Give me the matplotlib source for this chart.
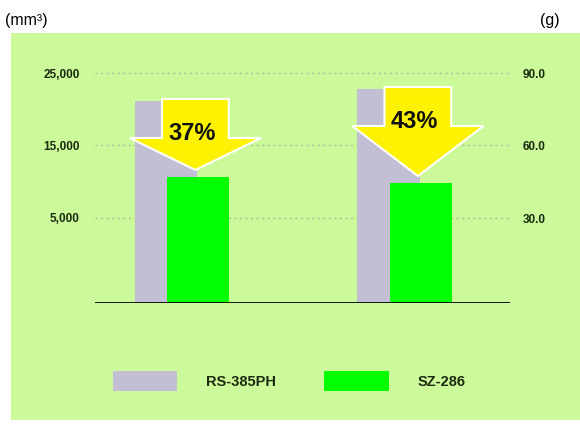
import matplotlib
matplotlib.use('Agg')
from matplotlib import pyplot as plt
from matplotlib.patches import Rectangle, Polygon, Patch
import numpy as np

plt.rcParams['font.family'] = ['Liberation Sans', 'DejaVu Sans']

## data (mm3)
groups = [0, 1]
series = ['RS-385PH', 'SZ-286']
rs385 = [20200, 21400]
sz286 = [12600, 12000]
drops = ['37%', '43%']

# gridline positions and the labels printed on them
tick_pos = [23000, 15800, 8500]
left_labels = ['25,000', '15,000', '5,000']
right_labels = ['90.0', '60.0', '30.0']

gray = '#C2BED3'
green = '#00FF00'
panel = '#CCFA9A'
yellow = '#FFF200'

fig = plt.figure(figsize=(5.8, 4.28), dpi=100)
fig.patches.append(Rectangle((11/580, 8/428), 1 - 11/580, (420-33)/428,
	transform=fig.transFigure, facecolor=panel, edgecolor='none', zorder=-5))

ax = fig.add_axes([95/580, 1-303/428, 415/580, 243/428])
ax.set_facecolor('none')
ax.set_xlim(-0.391, 1.474)
ax.set_ylim(0, 24300)

x = np.array(groups)
w = 0.279
ax.bar(x - 0.072, rs385, w, color=gray, zorder=2)
ax.bar(x + 0.072, sz286, w, color=green, zorder=3)

# block arrows from the old value down to the new one
for gx, top, low, txt in zip(x, rs385, sz286, drops):
	cx = gx + 0.06
	sw = 0.15
	hw = 0.295
	base = top - 3700
	tip = low + 700
	pts = [(cx-sw, top+200), (cx+sw, top+200), (cx+sw, base), (cx+hw, base),
		(cx, tip), (cx-hw, base), (cx-sw, base)]
	ax.add_patch(Polygon(pts, closed=True, facecolor=yellow, edgecolor='white',
		linewidth=1.5, zorder=4))
	ax.text(gx + 0.045, top - 3200, txt, ha='center', va='center',
		fontsize=17, fontweight='bold', color='#111111', zorder=5)

for t in tick_pos:
	ax.axhline(t, color='#A9BFA0', linestyle=(0, (1.5, 2.5)), linewidth=1, zorder=1)
ax.axhline(0, color='black', linewidth=2, zorder=6)

for s in ax.spines.values():
	s.set_visible(False)
ax.set_xticks([])
ax.set_yticks(tick_pos)
ax.set_yticklabels(left_labels, fontsize=8.5, fontweight='bold', color='#1A2A10')
ax.tick_params(axis='y', length=0, pad=11)

ax2 = ax.twinx()
ax2.set_ylim(ax.get_ylim())
ax2.set_yticks(tick_pos)
ax2.set_yticklabels(right_labels, fontsize=8.5, fontweight='bold', color='#1A2A10')
ax2.tick_params(axis='y', length=0, pad=9)
for s in ax2.spines.values():
	s.set_visible(False)

fig.text(5/580, 1-20/428, '(mm³)', fontsize=11.5, va='center', ha='left')
fig.text(560/580, 1-20/428, '(g)', fontsize=11.5, va='center', ha='right')

handles = [Patch(facecolor=gray, edgecolor='none'), Patch(facecolor=green, edgecolor='none')]
leg = fig.legend(handles, series, loc='center left', bbox_to_anchor=(113/580, 1-381/428),
	ncol=2, frameon=False, handlelength=4.4, handleheight=1.7, handletextpad=2.0,
	columnspacing=3.3, borderpad=0, borderaxespad=0,
	prop={'size': 10.5, 'weight': 'bold'})
for t in leg.get_texts():
	t.set_color('#1E2A10')

fig.savefig('out.png', dpi=100)
